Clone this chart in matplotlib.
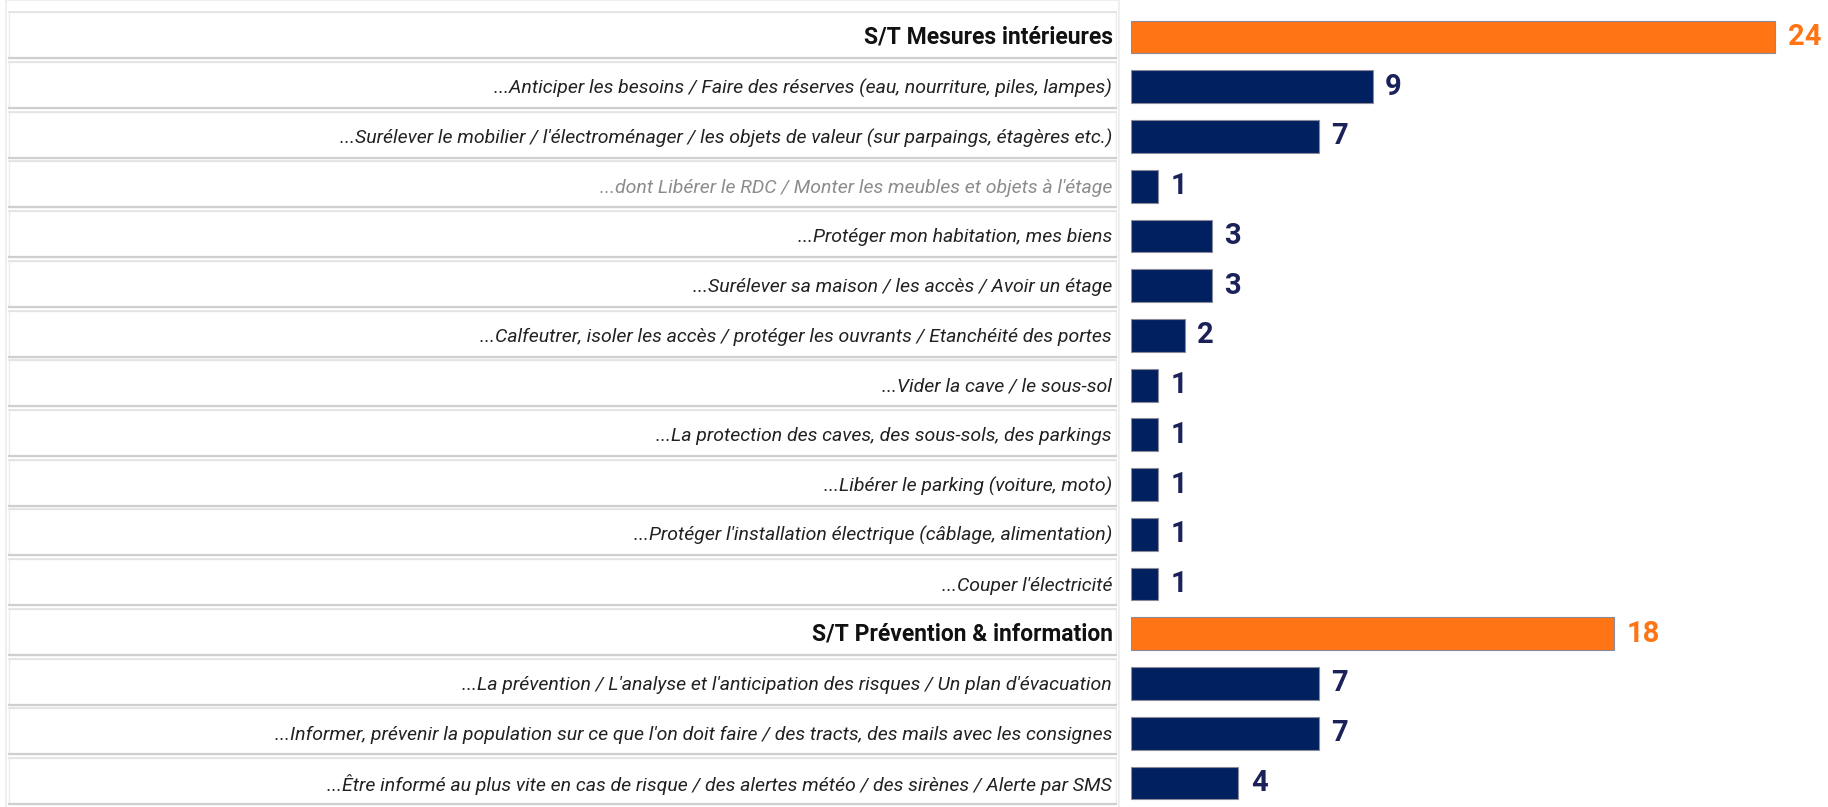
import matplotlib
matplotlib.use("Agg")
import matplotlib.pyplot as plt
from matplotlib.patches import Rectangle
from matplotlib.transforms import blended_transform_factory

labels = [
    "S/T Mesures intérieures",
    "...Anticiper les besoins / Faire des réserves (eau, nourriture, piles, lampes)",
    "...Surélever le mobilier / l'électroménager / les objets de valeur (sur parpaings, étagères etc.)",
    "...dont Libérer le RDC / Monter les meubles et objets à l'étage",
    "...Protéger mon habitation, mes biens",
    "...Surélever sa maison / les accès / Avoir un étage",
    "...Calfeutrer, isoler les accès / protéger les ouvrants / Etanchéité des portes",
    "...Vider la cave / le sous-sol",
    "...La protection des caves, des sous-sols, des parkings",
    "...Libérer le parking (voiture, moto)",
    "...Protéger l'installation électrique (câblage, alimentation)",
    "...Couper l'électricité",
    "S/T Prévention & information",
    "...La prévention / L'analyse et l'anticipation des risques / Un plan d'évacuation",
    "...Informer, prévenir la population sur ce que l'on doit faire / des tracts, des mails avec les consignes",
    "...Être informé au plus vite en cas de risque / des alertes météo / des sirènes / Alerte par SMS",
]
values = [24, 9, 7, 1, 3, 3, 2, 1, 1, 1, 1, 1, 18, 7, 7, 4]
is_total = [True, False, False, False, False, False, False, False, False, False, False, False,
            True, False, False, False]
is_sub = [False, False, False, True, False, False, False, False, False, False, False, False,
          False, False, False, False]

ORANGE = "#FF7415"
NAVY = "#01205F"
NAVY_TXT = "#1B2159"

W, H = 1828, 807
fig = plt.figure(figsize=(W / 100, H / 100), dpi=100)
fig.patch.set_facecolor("white")

x0_px = 1131
ax = fig.add_axes([x0_px / W, 0, 1 - x0_px / W, 1])
px_per_unit = 26.85
ax.set_xlim(0, (W - x0_px) / px_per_unit)
pitch = 49.73
c0 = 37.0
ax.set_ylim((H - c0) / pitch, -c0 / pitch)
ax.axis("off")

n = len(labels)
ys = list(range(n))
colors = [ORANGE if t else NAVY for t in is_total]
ax.barh(ys, values, height=0.66, color=colors, edgecolor="#8a8a9a", linewidth=0.8, align="center")

for y, v, t in zip(ys, values, is_total):
    ax.annotate(str(v), xy=(v, y), xytext=(9.0, 0), textcoords="offset points",
                ha="left", va="center", fontsize=21, fontweight="bold",
                family="Roboto", color=ORANGE if t else NAVY_TXT)

# label panel
tr = blended_transform_factory(fig.transFigure, ax.transData)
fig.patches.append(Rectangle((6 / W, -0.02), 1113 / W, (H - 8) / H + 0.03,
                             transform=fig.transFigure, facecolor="none",
                             edgecolor="#ececec", linewidth=1.2, zorder=-1))
cx0, cx1 = 9 / W, 1116 / W
for y, lab, t, s in zip(ys, labels, is_total, is_sub):
    ax.add_patch(Rectangle((cx0, y - 0.50), cx1 - cx0, 0.925, transform=tr,
                           facecolor="white", edgecolor="#ececec", linewidth=1.0,
                           clip_on=False, zorder=1))
    ax.plot([cx0, cx1], [y - 0.50, y - 0.50], transform=tr, color="#e2e2e2",
            lw=1.2, clip_on=False, zorder=2)
    ax.plot([cx0, cx1], [y + 0.425, y + 0.425], transform=tr, color="#cfcfcf",
            lw=1.6, clip_on=False, zorder=2)
    if t:
        ax.text(1113 / W, y, lab, transform=tr, ha="right", va="center",
                fontsize=16.5, fontweight="bold", family="Roboto", color="#111111",
                zorder=3, clip_on=False)
    else:
        ax.text(1112 / W, y + 0.03, lab, transform=tr, ha="right", va="center",
                fontsize=14, fontstyle="italic", family="Roboto",
                color="#8c8c8c" if s else "#222222", zorder=3, clip_on=False)

fig.savefig("out.png", dpi=100, facecolor="white")
